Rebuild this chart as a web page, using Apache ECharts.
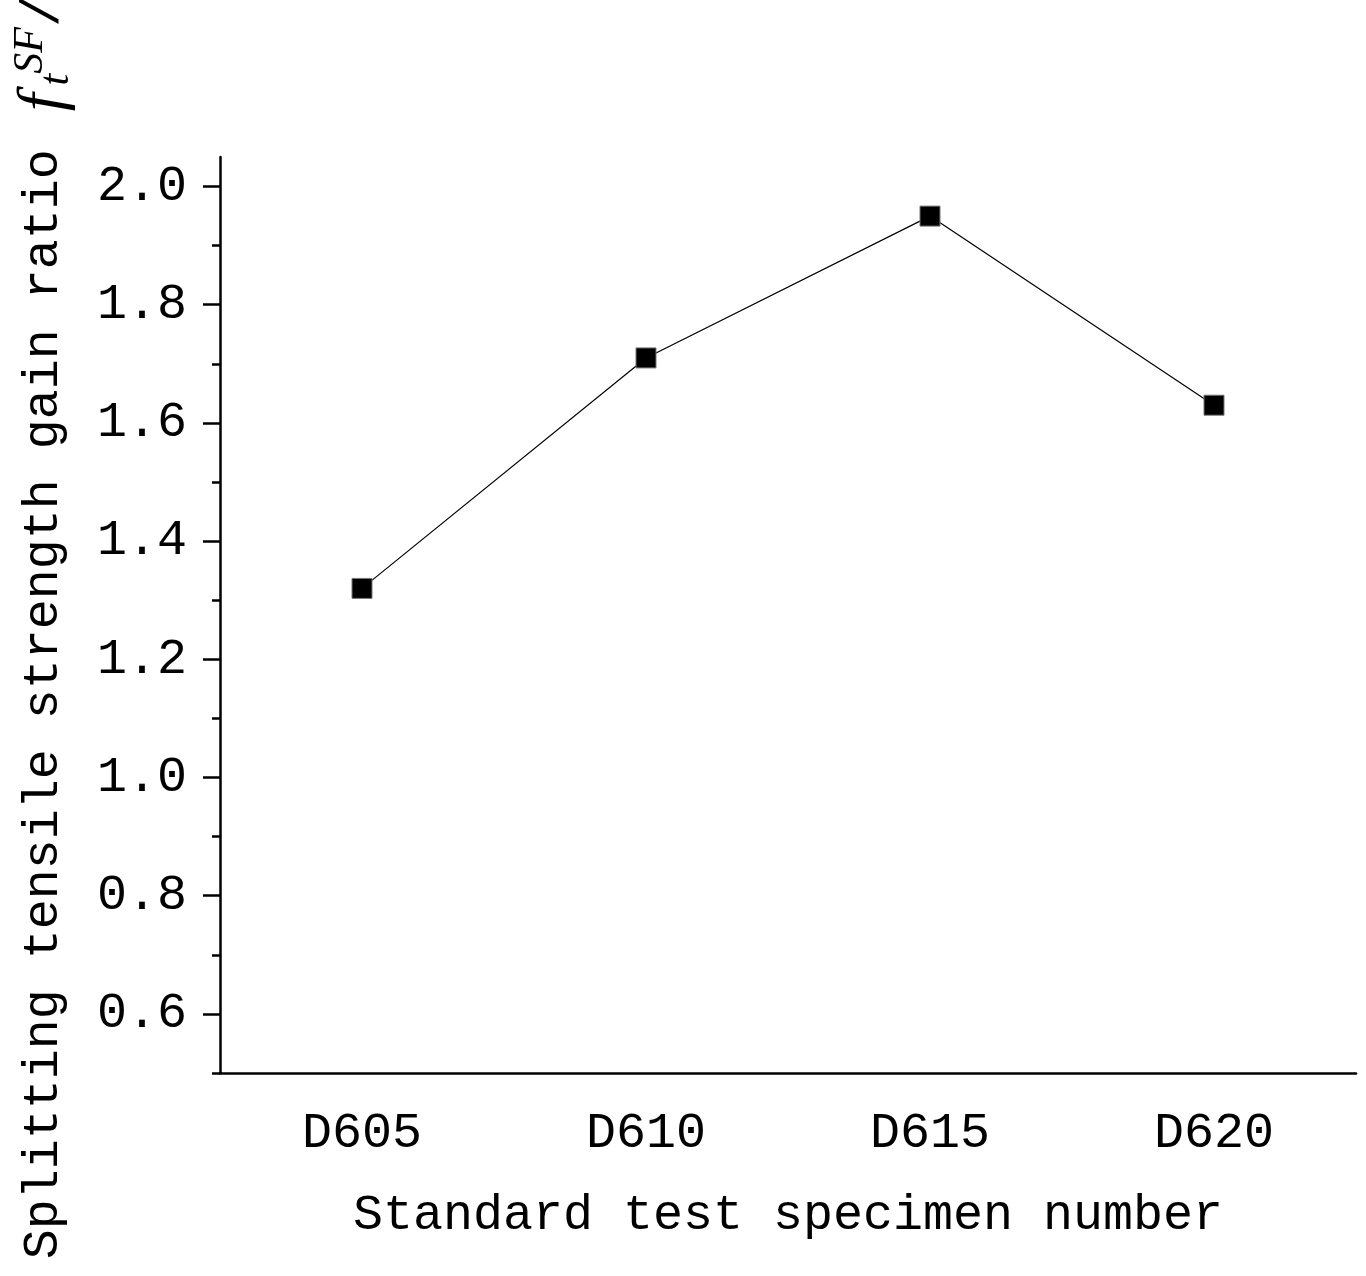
<!DOCTYPE html>
<html>
<head>
<meta charset="utf-8">
<script src="https://cdn.jsdelivr.net/npm/echarts@6/dist/echarts.min.js"></script>
<style>
  html, body { margin: 0; padding: 0; background: #fff; }
  #chart { width: 1366px; height: 1276px; }
</style>
</head>
<body>
<div id="chart"></div>
<script>
// data
var specimens = ['D605', 'D610', 'D615', 'D620']
var gainRatio = [1.32, 1.71, 1.95, 1.63]
var majorTicks = [0.6, 0.8, 1.0, 1.2, 1.4, 1.6, 1.8, 2.0]
var minorTicks = [0.5, 0.7, 0.9, 1.1, 1.3, 1.5, 1.7, 1.9]

var FONT = '"Liberation Mono", monospace'
var SERIF = '"Liberation Serif", serif'
var chart = echarts.init(document.getElementById('chart'))

var option = {
  backgroundColor: '#fff',
  animation: false,
  grid: { left: 220, right: 10, top: 157, bottom: 203, containLabel: false, outerBoundsMode: 'none' },
  xAxis: [{
    type: 'category',
    data: specimens,
    boundaryGap: true,
    name: 'Standard test specimen number',
    nameLocation: 'middle',
    nameGap: 118,
    nameTextStyle: { fontFamily: FONT, fontSize: 50, color: '#000' },
    axisLine: { lineStyle: { color: '#000', width: 2.5 } },
    axisTick: { alignWithLabel: true, length: 17, lineStyle: { color: '#000', width: 2.5 } },
    axisLabel: { fontFamily: FONT, fontSize: 50, color: '#000', margin: 36 },
    splitLine: { show: false }
  }, {
    // minor ticks on the category boundaries
    type: 'category',
    data: specimens,
    boundaryGap: true,
    position: 'bottom',
    axisLine: { show: false },
    axisTick: { alignWithLabel: false, length: 8, lineStyle: { color: '#000', width: 2.5 } },
    axisLabel: { show: false },
    splitLine: { show: false }
  }],
  yAxis: [{
    type: 'value',
    min: 0.5,
    max: 2.05,
    name: 'Splitting tensile strength gain ratio {i|f}{sub|t}{sup|SF}{sl|/}',
    nameLocation: 'middle',
    nameRotate: 90,
    nameGap: 142,
    nameTextStyle: {
      fontFamily: FONT, fontSize: 50, color: '#000',
      padding: [0, 24, 0, 0],
      rich: {
        i: { fontFamily: SERIF, fontStyle: 'italic', fontSize: 64, color: '#000', padding: [0, 2, 0, 8] },
        sub: { fontFamily: SERIF, fontStyle: 'italic', fontSize: 42, color: '#000', verticalAlign: 'bottom', padding: [26, 0, 0, 6] },
        sup: { fontFamily: SERIF, fontStyle: 'italic', fontSize: 42, color: '#000', verticalAlign: 'top', padding: [0, 0, 26, 0] },
        sl: { fontFamily: FONT, fontSize: 54, color: '#000' }
      }
    },
    axisLine: { show: true, lineStyle: { color: '#000', width: 2.5 } },
    axisTick: { show: true, customValues: majorTicks, length: 17, lineStyle: { color: '#000', width: 2.5 } },
    axisLabel: {
      customValues: majorTicks,
      fontFamily: FONT, fontSize: 50, color: '#000', margin: 33,
      formatter: function (v) { return v.toFixed(1) }
    },
    splitLine: { show: false }
  }, {
    // minor ticks
    type: 'value',
    min: 0.5,
    max: 2.05,
    position: 'left',
    axisLine: { show: false },
    axisTick: { show: true, customValues: minorTicks, length: 8, lineStyle: { color: '#000', width: 2.5 } },
    axisLabel: { show: false },
    splitLine: { show: false }
  }],
  series: [{
    type: 'line',
    xAxisIndex: 0,
    yAxisIndex: 0,
    data: gainRatio,
    symbol: 'rect',
    symbolSize: 20,
    lineStyle: { color: '#000', width: 1.2 },
    itemStyle: { color: '#000', borderColor: '#777', borderWidth: 1 }
  }]
}
chart.setOption(option)
</script>
</body>
</html>
